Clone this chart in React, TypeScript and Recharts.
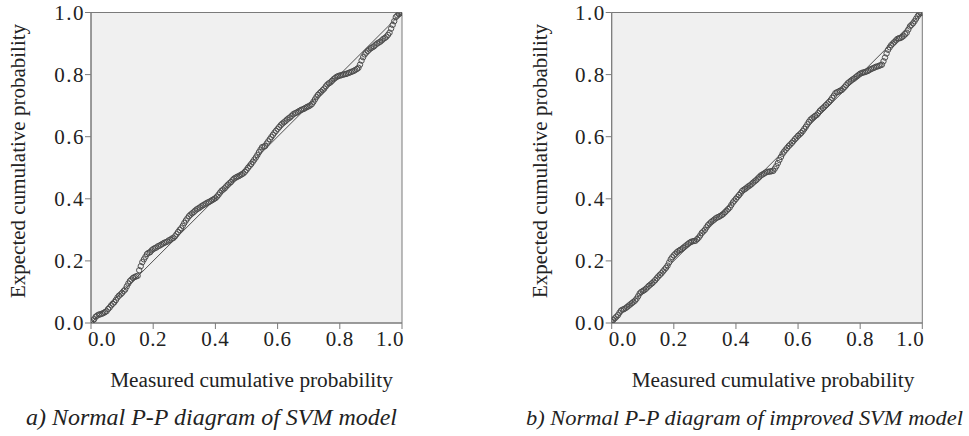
import React from "react";
import {
  ScatterChart,
  Scatter,
  XAxis,
  YAxis,
  CartesianGrid,
  ReferenceLine,
  ReferenceArea,
  Label,
} from "recharts";

// ---- Data ----
const tickValues = [0, 0.2, 0.4, 0.6, 0.8, 1.0];

const measuredA = [
  0.0, 0.01, 0.02, 0.03, 0.04, 0.05, 0.06, 0.07, 0.08, 0.09,
  0.1, 0.11, 0.12, 0.13, 0.14, 0.15, 0.16, 0.17, 0.18, 0.19,
  0.2, 0.21, 0.22, 0.23, 0.24, 0.25, 0.26, 0.27, 0.28, 0.29,
  0.3, 0.31, 0.32, 0.33, 0.34, 0.35, 0.36, 0.37, 0.38, 0.39,
  0.4, 0.41, 0.42, 0.43, 0.44, 0.45, 0.46, 0.47, 0.48, 0.49,
  0.5, 0.51, 0.52, 0.53, 0.54, 0.55, 0.56, 0.57, 0.58, 0.59,
  0.6, 0.61, 0.62, 0.63, 0.64, 0.65, 0.66, 0.67, 0.68, 0.69,
  0.7, 0.71, 0.72, 0.73, 0.74, 0.75, 0.76, 0.77, 0.78, 0.79,
  0.8, 0.81, 0.82, 0.83, 0.84, 0.85, 0.86, 0.87, 0.88, 0.89,
  0.9, 0.91, 0.92, 0.93, 0.94, 0.95, 0.96, 0.97, 0.98, 0.99, 1.0,
];
const expectedA = [
  0.003, 0.012, 0.024, 0.028, 0.032, 0.038, 0.05, 0.062, 0.074, 0.088,
  0.097, 0.108, 0.127, 0.14, 0.148, 0.152, 0.183, 0.205, 0.222, 0.228,
  0.238, 0.243, 0.249, 0.255, 0.26, 0.266, 0.272, 0.279, 0.293, 0.305,
  0.322, 0.337, 0.349, 0.357, 0.366, 0.372, 0.379, 0.385, 0.39, 0.396,
  0.402, 0.413, 0.426, 0.434, 0.445, 0.454, 0.465, 0.471, 0.476, 0.482,
  0.493, 0.506, 0.519, 0.533, 0.55, 0.566, 0.57, 0.585, 0.599, 0.613,
  0.625, 0.637, 0.646, 0.655, 0.662, 0.672, 0.677, 0.683, 0.688, 0.693,
  0.698, 0.705, 0.72, 0.735, 0.745, 0.755, 0.768, 0.775, 0.785, 0.793,
  0.797, 0.8, 0.802, 0.806, 0.81, 0.815, 0.822, 0.845, 0.865, 0.876,
  0.885, 0.891, 0.9, 0.906, 0.915, 0.922, 0.935, 0.96, 0.985, 0.995, 1.0,
];
const measuredA2 = [
  0.005, 0.015, 0.025, 0.035, 0.045, 0.055, 0.065, 0.075, 0.085, 0.095,
  0.105, 0.115, 0.125, 0.135, 0.145, 0.155, 0.165, 0.175, 0.185, 0.195,
  0.205, 0.215, 0.225, 0.235, 0.245, 0.255, 0.265, 0.275, 0.285, 0.295,
  0.305, 0.315, 0.325, 0.335, 0.345, 0.355, 0.365, 0.375, 0.385, 0.395,
  0.405, 0.415, 0.425, 0.435, 0.445, 0.455, 0.465, 0.475, 0.485, 0.495,
  0.505, 0.515, 0.525, 0.535, 0.545, 0.555, 0.565, 0.575, 0.585, 0.595,
  0.605, 0.615, 0.625, 0.635, 0.645, 0.655, 0.665, 0.675, 0.685, 0.695,
  0.705, 0.715, 0.725, 0.735, 0.745, 0.755, 0.765, 0.775, 0.785, 0.795,
  0.805, 0.815, 0.825, 0.835, 0.845, 0.855, 0.865, 0.875, 0.885, 0.895,
  0.905, 0.915, 0.925, 0.935, 0.945, 0.955, 0.965, 0.975, 0.985, 0.995,
];
const expectedA2 = [
  0.008, 0.02, 0.027, 0.03, 0.035, 0.045, 0.057, 0.067, 0.082, 0.092,
  0.103, 0.118, 0.135, 0.145, 0.15, 0.17, 0.196, 0.213, 0.226, 0.234,
  0.241, 0.247, 0.252, 0.258, 0.262, 0.268, 0.274, 0.286, 0.3, 0.313,
  0.33, 0.344, 0.353, 0.362, 0.369, 0.376, 0.382, 0.388, 0.393, 0.399,
  0.407, 0.42, 0.43, 0.44, 0.45, 0.46, 0.468, 0.473, 0.479, 0.487,
  0.5, 0.512, 0.526, 0.541, 0.558, 0.568, 0.578, 0.592, 0.606, 0.619,
  0.631, 0.642, 0.65, 0.659, 0.667, 0.675, 0.68, 0.686, 0.69, 0.696,
  0.701, 0.712, 0.728, 0.74, 0.75, 0.762, 0.772, 0.78, 0.789, 0.795,
  0.798, 0.801, 0.804, 0.808, 0.812, 0.818, 0.832, 0.856, 0.871, 0.881,
  0.888, 0.896, 0.903, 0.91, 0.918, 0.928, 0.948, 0.972, 0.99, 0.998,
];

const measuredB = measuredA.slice();
const expectedB = [
  0.005, 0.015, 0.025, 0.04, 0.045, 0.052, 0.06, 0.068, 0.078, 0.095,
  0.103, 0.11, 0.12, 0.128, 0.138, 0.15, 0.16, 0.172, 0.185, 0.205,
  0.218, 0.228, 0.235, 0.242, 0.25, 0.258, 0.263, 0.265, 0.275, 0.29,
  0.3, 0.315, 0.325, 0.333, 0.34, 0.345, 0.352, 0.362, 0.372, 0.388,
  0.4, 0.412, 0.425, 0.432, 0.44, 0.447, 0.456, 0.465, 0.475, 0.481,
  0.487, 0.488, 0.49, 0.505, 0.525, 0.545, 0.558, 0.57, 0.58, 0.592,
  0.603, 0.612, 0.625, 0.64, 0.655, 0.663, 0.67, 0.683, 0.692, 0.702,
  0.712, 0.725, 0.74, 0.745, 0.75, 0.76, 0.772, 0.78, 0.787, 0.795,
  0.803, 0.807, 0.81, 0.815, 0.82, 0.825, 0.828, 0.832, 0.855, 0.88,
  0.895, 0.905, 0.915, 0.918, 0.925, 0.935, 0.955, 0.965, 0.98, 0.995, 1.0,
];
const measuredB2 = measuredA2.slice();
const expectedB2 = [
  0.01, 0.02, 0.033, 0.043, 0.048, 0.056, 0.064, 0.072, 0.086, 0.1,
  0.106, 0.115, 0.124, 0.133, 0.144, 0.155, 0.166, 0.178, 0.195, 0.212,
  0.223, 0.232, 0.238, 0.246, 0.254, 0.261, 0.264, 0.27, 0.282, 0.295,
  0.308, 0.32, 0.329, 0.337, 0.342, 0.348, 0.357, 0.367, 0.38, 0.394,
  0.406, 0.418, 0.429, 0.436, 0.443, 0.452, 0.46, 0.47, 0.478, 0.484,
  0.487, 0.489, 0.497, 0.515, 0.535, 0.552, 0.564, 0.575, 0.586, 0.597,
  0.607, 0.618, 0.632, 0.648, 0.659, 0.667, 0.676, 0.688, 0.697, 0.707,
  0.718, 0.732, 0.743, 0.748, 0.755, 0.766, 0.776, 0.784, 0.791, 0.799,
  0.805, 0.808, 0.812, 0.818, 0.822, 0.826, 0.83, 0.843, 0.868, 0.888,
  0.9, 0.91, 0.917, 0.921, 0.93, 0.945, 0.96, 0.972, 0.988, 0.998,
];

const xTitle = "Measured cumulative probability";
const yTitle = "Expected cumulative probability";
const captionA = "a) Normal P-P diagram of SVM model";
const captionB = "b) Normal P-P diagram of improved SVM model";

const FONT = "Liberation Serif, Times New Roman, serif";
const TEXT = "#222222";
const FRAME = "#7a7a7a";

const zip = (xs: number[], ys: number[]) =>
  xs.map((x, i) => ({ x, y: ys[i] }));

const Dot = (props: any) => {
  const { cx, cy } = props;
  if (cx == null || cy == null) return null;
  return (
    <circle cx={cx} cy={cy} r={2.7} fill="none" stroke="#4c4c4c" strokeWidth={1} />
  );
};

const XTick = (props: any) => {
  const { x, y, payload } = props;
  const v = payload.value as number;
  let anchor: "start" | "middle" | "end" = "middle";
  let dx = 0;
  if (v === 0) {
    anchor = "start";
    dx = -3;
  } else if (v === 1) {
    anchor = "end";
    dx = 2;
  }
  return (
    <text
      x={x + dx}
      y={y + 15}
      textAnchor={anchor}
      fontFamily={FONT}
      fontSize={21}
      letterSpacing={0.6}
      fill={TEXT}
    >
      {v.toFixed(1)}
    </text>
  );
};

const YTick = (props: any) => {
  const { x, y, payload } = props;
  const v = payload.value as number;
  return (
    <text
      x={x + 1}
      y={y + 7}
      textAnchor="end"
      fontFamily={FONT}
      fontSize={21}
      letterSpacing={1.5}
      fill={TEXT}
    >
      {v.toFixed(1)}
    </text>
  );
};

type PanelProps = {
  data: { x: number; y: number }[];
  width: number;
  marginLeft: number;
  marginRight: number;
  caption: string;
  captionX: number;
  captionLength: number;
  captionSize: number;
  xTitleShift: number;
  yTitleBaselineFromAxis: number;
};

const Panel = ({
  data,
  width,
  marginLeft,
  marginRight,
  caption,
  captionX,
  captionLength,
  captionSize,
  xTitleShift,
  yTitleBaselineFromAxis,
}: PanelProps) => (
  <ScatterChart
    width={width}
    height={436}
    margin={{ top: 12.5, right: marginRight, bottom: 73, left: marginLeft }}
  >
    <CartesianGrid horizontal={false} vertical={false} fill="#f0f0f0" />
    <XAxis
      type="number"
      dataKey="x"
      domain={[0, 1]}
      ticks={tickValues}
      height={40}
      tickSize={6}
      tickMargin={2}
      stroke={FRAME}
      tick={<XTick />}
      axisLine={{ stroke: FRAME }}
      tickLine={{ stroke: FRAME }}
      allowDataOverflow
    >
      <Label
        content={(p: any) => {
          const vb = p.viewBox || { x: 0, y: 0, width: 0 };
          const cx = vb.x + vb.width / 2 + xTitleShift;
          return (
            <g>
              <text
                x={cx}
                y={vb.y + 64}
                textAnchor="middle"
                fontFamily={FONT}
                fontSize={21.3}
                fill={TEXT}
              >
                {xTitle}
              </text>
              <text
                x={captionX}
                y={vb.y + 102}
                textAnchor="start"
                fontFamily={FONT}
                fontStyle="italic"
                fontSize={captionSize}
                textLength={captionLength}
                lengthAdjust="spacingAndGlyphs"
                fill={TEXT}
              >
                {caption}
              </text>
            </g>
          );
        }}
      />
    </XAxis>
    <YAxis
      type="number"
      dataKey="y"
      domain={[0, 1]}
      ticks={tickValues}
      width={91}
      tickSize={6}
      tickMargin={1}
      stroke={FRAME}
      tick={<YTick />}
      axisLine={{ stroke: FRAME }}
      tickLine={{ stroke: FRAME }}
      allowDataOverflow
    >
      <Label
        content={(p: any) => {
          const vb = p.viewBox || { x: 0, y: 0, width: 0, height: 0 };
          const bx = vb.x + vb.width - yTitleBaselineFromAxis;
          const by = 161;
          return (
            <text
              x={bx}
              y={by}
              transform={`rotate(-90, ${bx}, ${by})`}
              textAnchor="middle"
              fontFamily={FONT}
              fontSize={21}
              fill={TEXT}
            >
              {yTitle}
            </text>
          );
        }}
      />
    </YAxis>
    <ReferenceArea x1={0} x2={1} y1={0} y2={1} fill="none" stroke={FRAME} strokeWidth={1} />
    <ReferenceLine
      segment={[
        { x: 0, y: 0 },
        { x: 1, y: 1 },
      ]}
      stroke="#505050"
      strokeWidth={1}
    />
    <Scatter data={data} shape={<Dot />} isAnimationActive={false} />
  </ScatterChart>
);

export default function App() {
  return (
    <div
      style={{
        position: "absolute",
        left: 0,
        top: 0,
        width: 969,
        height: 436,
        background: "#ffffff",
      }}
    >
      <div style={{ position: "absolute", left: 0, top: 0 }}>
        <Panel
          data={[...zip(measuredA, expectedA), ...zip(measuredA2, expectedA2)]}
          width={480}
          marginLeft={0}
          marginRight={78}
          caption={captionA}
          captionX={26}
          captionLength={371}
          captionSize={23}
          xTitleShift={5}
          yTitleBaselineFromAxis={66}
        />
      </div>
      <div style={{ position: "absolute", left: 480, top: 0 }}>
        <Panel
          data={[...zip(measuredB, expectedB), ...zip(measuredB2, expectedB2)]}
          width={489}
          marginLeft={40.7}
          marginRight={46.7}
          caption={captionB}
          captionX={46}
          captionLength={437}
          captionSize={22}
          xTitleShift={6}
          yTitleBaselineFromAxis={65}
        />
      </div>
    </div>
  );
}
